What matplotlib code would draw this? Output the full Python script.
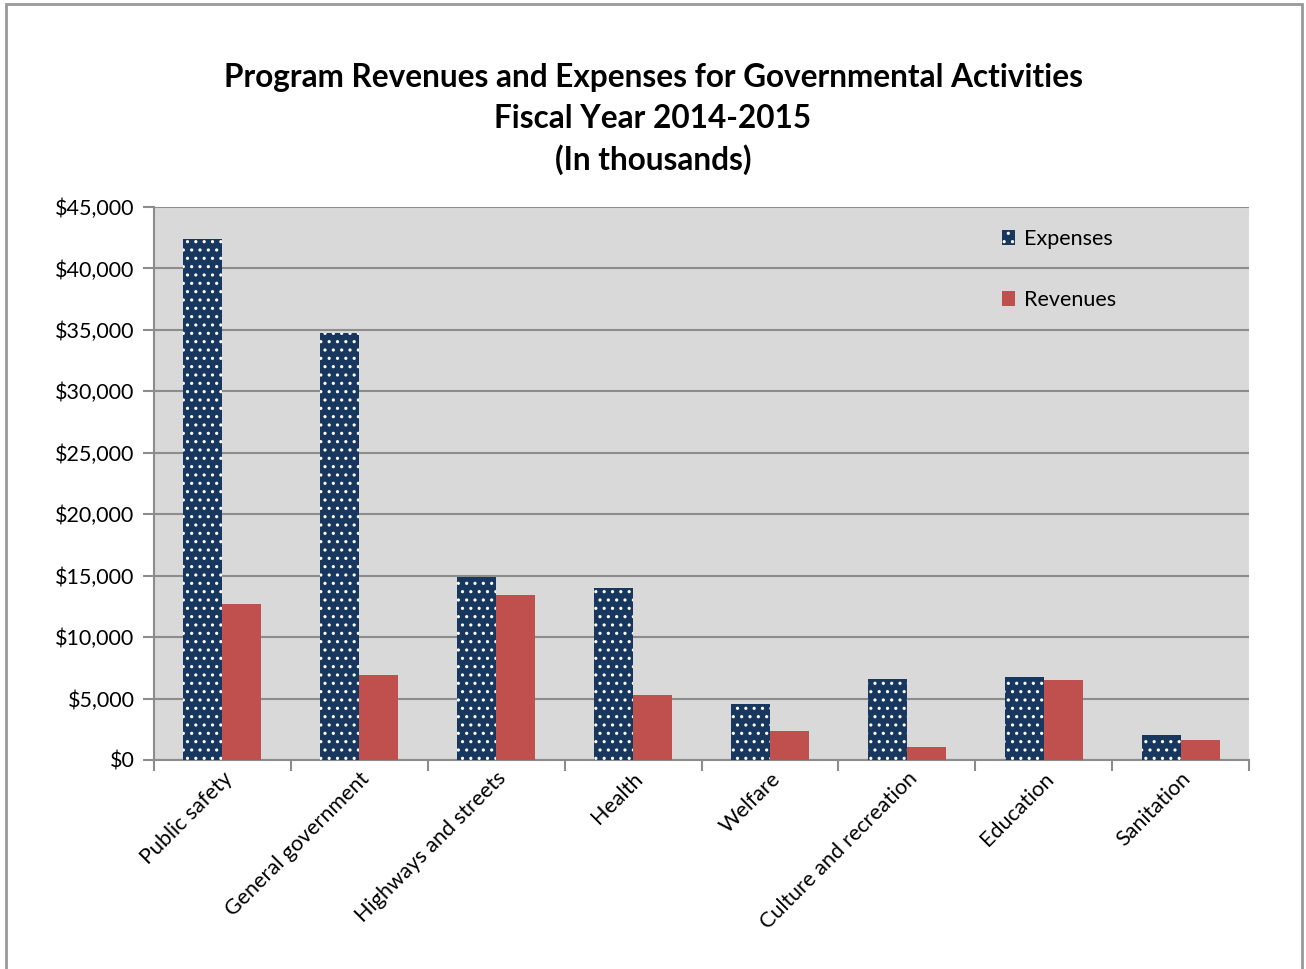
import matplotlib
matplotlib.use("Agg")
import matplotlib.pyplot as plt
import numpy as np
from matplotlib.patches import Rectangle, Patch

categories = ["Public safety", "General government", "Highways and streets", "Health",
              "Welfare", "Culture and recreation", "Education", "Sanitation"]
expenses = [42400, 34750, 14900, 14000, 4560, 6600, 6750, 2030]
revenues = [12700, 6950, 13450, 5300, 2350, 1050, 6500, 1650]
yticks = list(range(0, 45001, 5000))

plt.rcParams['font.family'] = ['Lato', 'DejaVu Sans']
plt.rcParams['hatch.linewidth'] = 1.1

W, H = 1306, 969
fig = plt.figure(figsize=(W/100, H/100), dpi=100)
fig.patches.append(Rectangle((6/W, -0.01), (1302-6)/W, 1.01 - 4/H, transform=fig.transFigure,
                             fill=False, edgecolor='#999999', lw=2))

ax = fig.add_axes([154/W, 1-760/H, (1249-154)/W, (760-207)/H])
ax.set_facecolor('#D9D9D9')

x = np.arange(len(categories)) + 0.5
bw = 0.285
navy = '#17375E'
red = '#C0504D'
ax.bar(x - bw/2, expenses, bw, color=navy, linewidth=0, zorder=3)
ax.bar(x - bw/2, expenses, bw, facecolor='none', edgecolor='white', hatch='..', linewidth=0, zorder=4)
ax.bar(x + bw/2, revenues, bw, color=red, linewidth=0, zorder=3)

ax.set_xlim(0, len(categories))
ax.set_ylim(0, 45000)
ax.set_yticks(yticks)
ax.set_yticklabels([f"${v:,}" for v in yticks], fontsize=15.5)
ax.yaxis.grid(True, color='#8C8C8C', lw=1.5, zorder=1)
ax.set_axisbelow(True)

ax.set_xticks(np.arange(len(categories) + 1))
ax.set_xticklabels([])
ax.set_xticks(x, minor=True)
ax.set_xticklabels(categories, minor=True, rotation=45, ha='right', rotation_mode='anchor', fontsize=15.5)
ax.tick_params(axis='x', which='minor', length=0, pad=6)
ax.tick_params(axis='x', which='major', length=8, width=1.5, color='#8C8C8C', direction='out')
ax.tick_params(axis='y', length=8, width=1.5, color='#8C8C8C', pad=6)

for s in ['top', 'right']:
    ax.spines[s].set_visible(False)
for s in ['left', 'bottom']:
    ax.spines[s].set_color('#8C8C8C')
    ax.spines[s].set_linewidth(1.5)

h1 = Patch(facecolor=navy, edgecolor='white', hatch='..', linewidth=0)
h2 = Patch(facecolor=red, linewidth=0)
ax.legend([h1, h2], ["Expenses", "Revenues"], loc='upper left', bbox_to_anchor=(0.757, 0.995),
          frameon=False, fontsize=15.5, handlelength=0.6, handleheight=0.7, labelspacing=1.9,
          handletextpad=0.4)

fig.text(0.5, 1-78/H, "Program Revenues and Expenses for Governmental Activities",
         ha='center', va='center', fontsize=22.7, fontweight='bold')
fig.text(0.5, 1-119/H, "Fiscal Year 2014-2015", ha='center', va='center', fontsize=22.7, fontweight='bold')
fig.text(0.5, 1-160/H, "(In thousands)", ha='center', va='center', fontsize=22.7, fontweight='bold')

fig.savefig("out.png", dpi=100)
